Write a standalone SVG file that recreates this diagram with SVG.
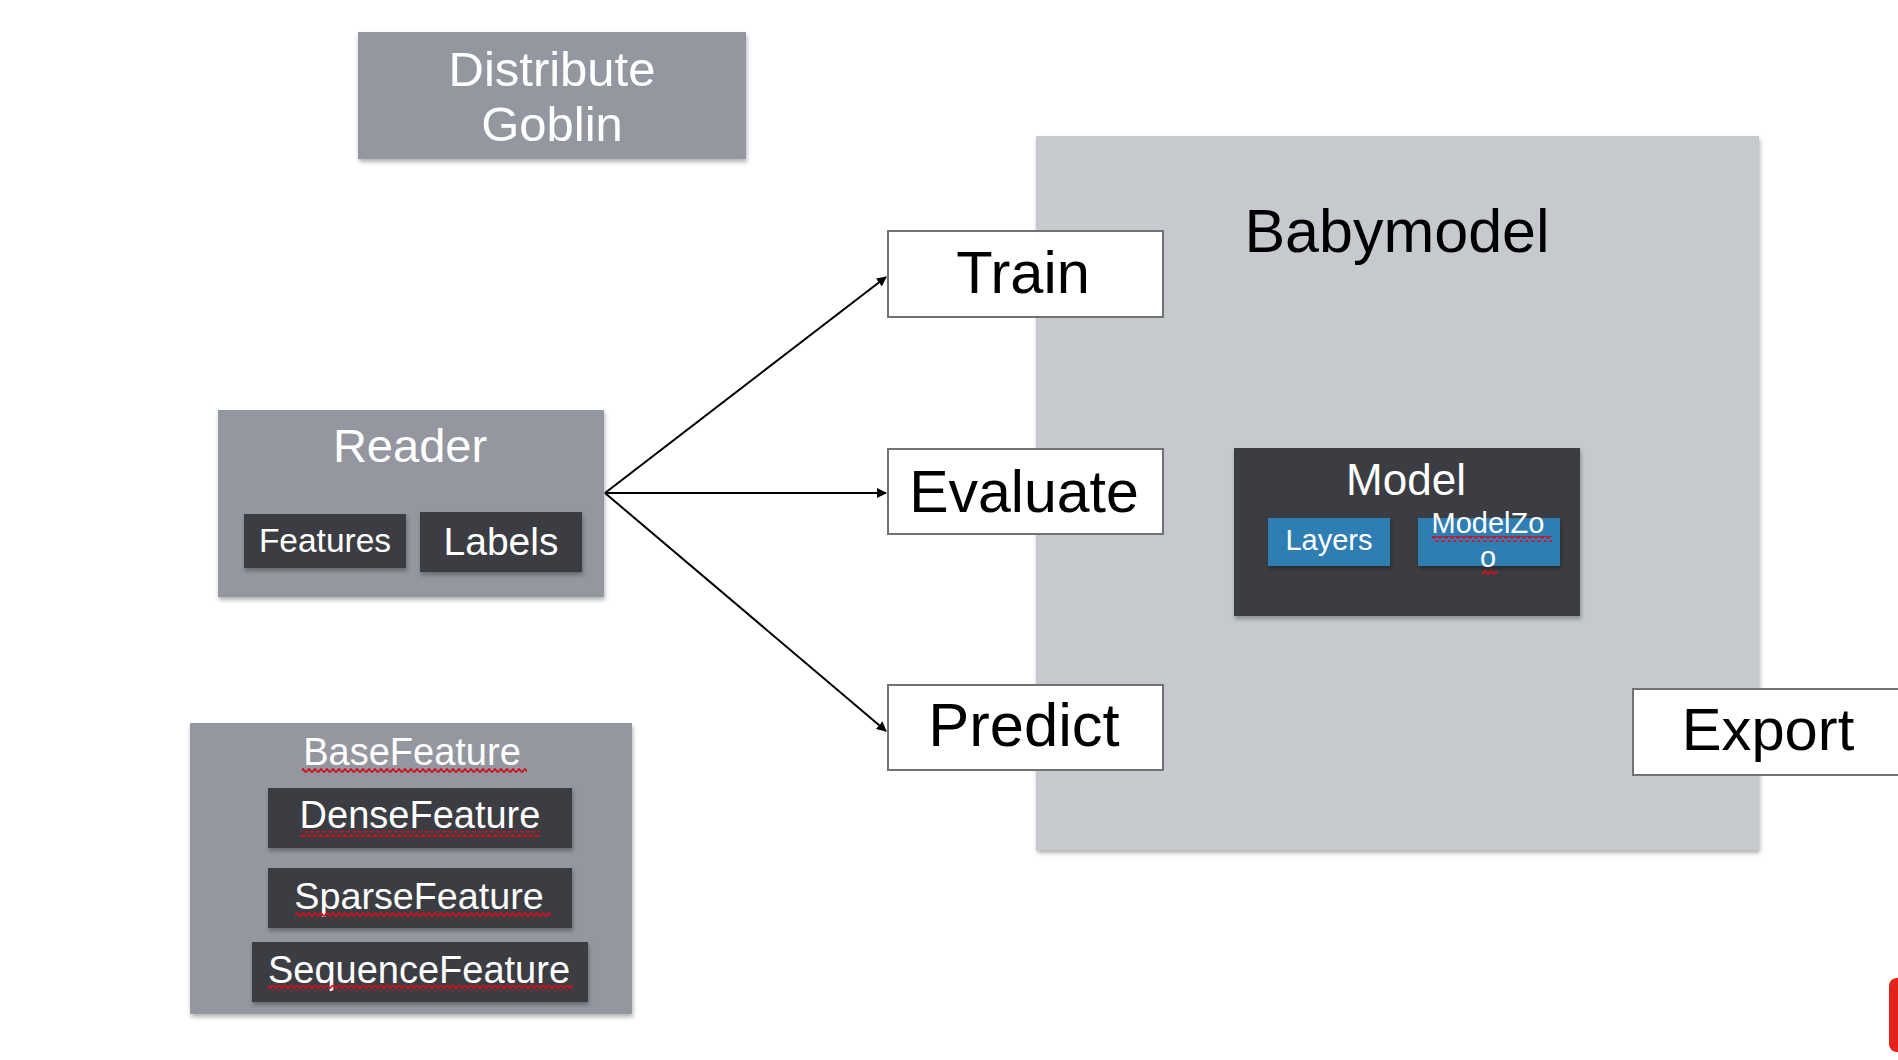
<svg xmlns="http://www.w3.org/2000/svg" width="1898" height="1060" viewBox="0 0 1898 1060">
<style>
text{font-family:"Liberation Sans",Arial,sans-serif;text-anchor:middle}
.gray{fill:#94979f}
.dark{fill:#3a3d43}
.blue{fill:#2f7db3}
.light{fill:#c6c9cd}
.wbox{fill:#fff;stroke:#727272;stroke-width:2}
.wt{fill:#fff}
.bt{fill:#000}
.edge{stroke:#000;stroke-width:2;fill:none;marker-end:url(#ah)}
.sq{fill:url(#squig)}
</style>
<defs>
<filter id="sh" x="-5%" y="-5%" width="110%" height="115%">
<feDropShadow dx="1" dy="3" stdDeviation="2" flood-color="#000" flood-opacity="0.3"/>
</filter>
<marker id="ah" viewBox="0 0 10 10" refX="9" refY="5" markerWidth="5" markerHeight="5" orient="auto" markerUnits="strokeWidth">
<path d="M0,0 L10,5 L0,10 z" fill="#000"/>
</marker>
<pattern id="squig" width="6" height="6" patternUnits="userSpaceOnUse">
<path d="M0,4.5 L3,1 L6,4.5" fill="none" stroke="#d0101e" stroke-width="1.8"/>
</pattern>
</defs>
<rect width="1898" height="1060" fill="#fff"/>

<g id="babymodel">
<rect class="light" x="1036" y="136" width="723" height="714" filter="url(#sh)"/>
<text class="bt" x="1397" y="252" font-size="61">Babymodel</text>
</g>

<g id="distribute-goblin">
<rect class="gray" x="358" y="32" width="388" height="127" filter="url(#sh)"/>
<text class="wt" x="552" y="86" font-size="49">Distribute</text>
<text class="wt" x="552" y="141" font-size="49">Goblin</text>
</g>

<g id="reader">
<rect class="gray" x="218" y="410" width="386" height="187" filter="url(#sh)"/>
<text class="wt" x="410" y="462" font-size="47">Reader</text>
<g id="features">
<rect class="dark" x="244" y="514" width="162" height="54" filter="url(#sh)"/>
<text class="wt" x="325" y="552" font-size="33.5">Features</text>
</g>
<g id="labels">
<rect class="dark" x="420" y="512" width="162" height="60" filter="url(#sh)"/>
<text class="wt" x="501" y="555" font-size="39">Labels</text>
</g>
</g>

<g id="basefeature">
<rect class="gray" x="190" y="723" width="442" height="291" filter="url(#sh)"/>
<text class="wt" x="412" y="765" font-size="38">BaseFeature</text>
<rect class="sq" x="302" y="768" width="225" height="6"/>
<g id="densefeature">
<rect class="dark" x="268" y="788" width="304" height="60" filter="url(#sh)"/>
<text class="wt" x="420" y="828" font-size="38">DenseFeature</text>
<rect class="sq" x="300" y="831" width="240" height="6"/>
</g>
<g id="sparsefeature">
<rect class="dark" x="268" y="868" width="304" height="60" filter="url(#sh)"/>
<text class="wt" x="419" y="909" font-size="37.7">SparseFeature</text>
<rect class="sq" x="295" y="912" width="256" height="6"/>
</g>
<g id="sequencefeature">
<rect class="dark" x="252" y="942" width="336" height="60" filter="url(#sh)"/>
<text class="wt" x="419" y="983" font-size="38">SequenceFeature</text>
<rect class="sq" x="268" y="985" width="305" height="6"/>
</g>
</g>

<g id="train">
<rect class="wbox" x="888" y="231" width="275" height="86"/>
<text class="bt" x="1023" y="293" font-size="59.6">Train</text>
</g>
<g id="evaluate">
<rect class="wbox" x="888" y="449" width="275" height="85"/>
<text class="bt" x="1024" y="512" font-size="59">Evaluate</text>
</g>
<g id="predict">
<rect class="wbox" x="888" y="685" width="275" height="85"/>
<text class="bt" x="1024" y="746" font-size="61.5">Predict</text>
</g>
<g id="export">
<rect class="wbox" x="1633" y="689" width="275" height="86"/>
<text class="bt" x="1768" y="750" font-size="59.7">Export</text>
</g>

<g id="model">
<rect class="dark" x="1234" y="448" width="346" height="168" filter="url(#sh)"/>
<text class="wt" x="1406" y="495" font-size="44">Model</text>
<g id="layers">
<rect class="blue" x="1268" y="518" width="122" height="48" filter="url(#sh)"/>
<text class="wt" x="1329" y="550" font-size="29">Layers</text>
</g>
<g id="modelzoo">
<rect class="blue" x="1418" y="518" width="142" height="48" filter="url(#sh)"/>
<text class="wt" x="1488" y="533" font-size="29">ModelZo</text>
<rect class="sq" x="1432" y="536" width="120" height="6"/>
<text class="wt" x="1488" y="567" font-size="29">o</text>
<rect class="sq" x="1482" y="569" width="15" height="6"/>
</g>
</g>

<g id="connectors">
<path class="edge" d="M605,493 L886,277"/>
<path class="edge" d="M605,493 L886,493"/>
<path class="edge" d="M605,493 L886,731"/>
</g>

<g id="red-tab">
<rect x="1889" y="978" width="20" height="74" rx="8" fill="#e2231a"/>
</g>
</svg>
